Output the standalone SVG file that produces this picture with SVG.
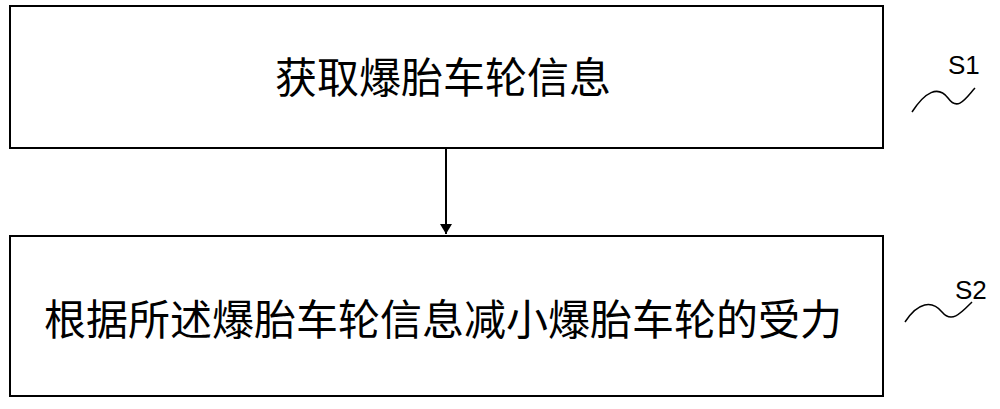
<svg xmlns="http://www.w3.org/2000/svg" width="1000" height="409" viewBox="0 0 1000 409">
<style>
.box{fill:#fff;stroke:#000;stroke-width:2}
.t{font-family:"Noto Sans CJK SC",sans-serif;font-size:42px;text-anchor:middle;fill:#000}
.l{font-family:"Liberation Sans",sans-serif;font-size:26px;fill:#000}
.w{fill:none;stroke:#000;stroke-width:1.5}
</style>
<defs><marker id="a" markerWidth="10" markerHeight="12" refX="10" refY="6" orient="auto" markerUnits="userSpaceOnUse"><path d="M0,0 L10,6 L0,12 Z"/></marker></defs>
<rect width="1000" height="409" fill="#fff"/>
<g id="n1"><rect class="box" x="10" y="6" width="873" height="142"/><text class="t" x="443" y="93">获取爆胎车轮信息</text></g>
<g id="n2"><rect class="box" x="10" y="236" width="873" height="160"/><text class="t" x="443" y="335">根据所述爆胎车轮信息减小爆胎车轮的受力</text></g>
<g id="edges"><line x1="446" y1="148" x2="446" y2="234" stroke="#000" stroke-width="2" marker-end="url(#a)"/></g>
<g id="labels">
<path class="w" d="M912,112 C925,92 938,85 948,98 C958,112 966,98 975,88"/><text class="l" x="948" y="74">S1</text>
<path class="w" d="M905,322 C918,302 932,300 942,312 C952,324 962,312 972,302"/><text class="l" x="955" y="299">S2</text>
</g>
</svg>
